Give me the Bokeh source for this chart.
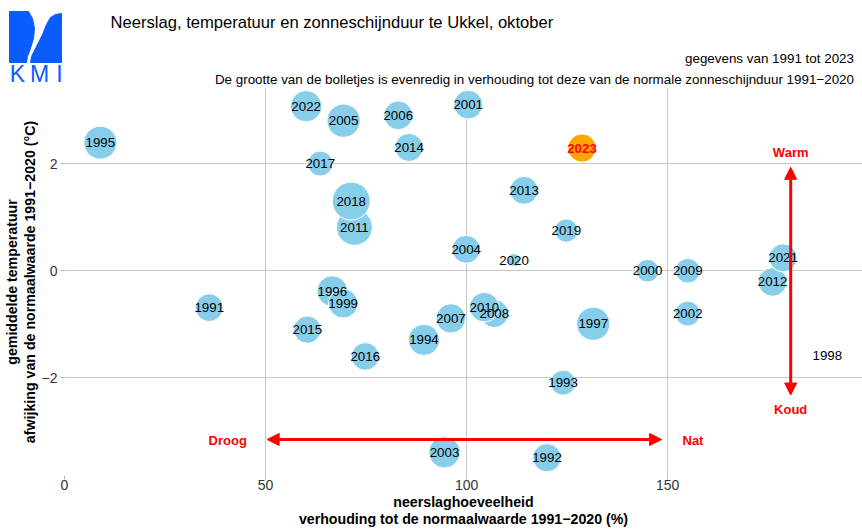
import math
from bokeh.plotting import figure
from bokeh.layouts import column, row
from bokeh.models import (Range1d, FixedTicker, Label, Arrow, NormalHead,
                          ColumnDataSource)
from bokeh.core.properties import value
from bokeh.embed import file_html
from bokeh.resources import INLINE

# ---------------- data ----------------
years = [1991, 1992, 1993, 1994, 1995, 1996, 1997, 1998, 1999, 2000,
         2001, 2002, 2003, 2004, 2005, 2006, 2007, 2008, 2009, 2010,
         2011, 2012, 2013, 2014, 2015, 2016, 2017, 2018, 2019, 2020,
         2021, 2022, 2023]
# precipitation, % of normal 1991-2020
precip = [36.0, 120.0, 124.0, 89.4, 8.9, 66.6, 131.5, 189.7, 69.3, 145.0,
          100.4, 155.0, 94.5, 99.9, 69.4, 83.0, 96.1, 106.9, 155.0, 104.4,
          72.1, 176.1, 114.3, 85.7, 60.4, 74.8, 63.6, 71.3, 124.8, 111.8,
          178.7, 60.1, 128.7]
# temperature anomaly vs 1991-2020 (degC)
temp_anom = [-0.69, -3.49, -2.09, -1.29, 2.39, -0.38, -0.99, -1.58, -0.61, 0.00,
             3.10, -0.80, -3.39, 0.40, 2.80, 2.90, -0.89, -0.80, 0.00, -0.68,
             0.81, -0.21, 1.50, 2.30, -1.10, -1.60, 2.00, 1.30, 0.75, 0.20,
             0.24, 3.07, 2.29]
# sunshine duration, % of normal 1991-2020 (None = missing)
sunshine = [98, 102, 80, 125, 139, 120, 141, None, 110, 66,
            105, 80, 125, 100, 141, 105, 110, 100, 78, 112,
            165, 105, 100, 100, 95, 98, 80, 184, 69, 21,
            100, 125, 102]

x_ticks = [0, 50, 100, 150]
y_ticks = [-2, 0, 2]

title = "Neerslag, temperatuur en zonneschijnduur te Ukkel, oktober"
subtitle1 = "gegevens van 1991 tot 2023"
subtitle2 = ("De grootte van de bolletjes is evenredig in verhouding tot deze van de "
             "normale zonneschijnduur 1991\u22122020")
xlab1 = "neerslaghoeveelheid"
xlab2 = "verhouding tot de normaalwaarde 1991\u22122020 (%)"
ylab1 = "gemiddelde temperatuur"
ylab2 = "afwijking van de normaalwaarde 1991\u22122020 (\u00b0C)"

FONT = "Liberation Sans"
W, H = 862, 530
HEAD_H = 88

# ---------------- header (logo + titles), pixel coordinates ----------------
hd = figure(width=W, height=HEAD_H, output_backend="svg", toolbar_location=None,
            x_range=Range1d(0, W), y_range=Range1d(HEAD_H, 0),
            x_axis_location=None, y_axis_location=None,
            min_border=0, min_border_left=0, min_border_right=0,
            min_border_top=0, min_border_bottom=0)
hd.outline_line_color = None
hd.grid.visible = False

BLUE = "#0a5cff"
left_piece = [(9, 11), (28, 11), (32, 18), (34, 28), (33, 38), (30, 48),
              (27, 56), (26, 62), (9, 62)]
right_piece = [(61, 13), (61, 62), (30, 62), (31, 56), (34, 50), (38, 42),
               (42, 34), (46, 24), (50, 17), (55, 14)]
hd.patches(xs=[[a for a, b in left_piece], [a for a, b in right_piece]],
           ys=[[b for a, b in left_piece], [b for a, b in right_piece]],
           fill_color=BLUE, line_color=BLUE)
hd.text(x=[17, 39, 59], y=[73, 73, 73], text=["K", "M", "I"],
        text_align="center", text_baseline="middle", text_color=BLUE,
        text_font=value(FONT), text_font_size="23px")

def hlabel(text, X, Y, **kw):
    opts = dict(text_font=FONT, text_font_size="13.4px", text_color="black",
                text_baseline="middle", text_align="left")
    opts.update(kw)
    hd.add_layout(Label(x=X, y=Y, text=text, **opts))

hlabel(title, 110, 22, text_font_size="16.6px")
hlabel(subtitle1, 853.5, 58, text_align="right")
hlabel(subtitle2, 853.5, 79, text_align="right")

# ---------------- main plot ----------------
p = figure(width=W, height=H - HEAD_H, output_backend="svg", toolbar_location=None,
           x_range=Range1d(0, 198.46), y_range=Range1d(-3.822, 3.401),
           min_border_left=63, min_border_right=0, min_border_top=0,
           min_border_bottom=55)
p.outline_line_color = None
p.background_fill_color = "white"

for ax in (p.xaxis[0], p.yaxis[0]):
    ax.axis_line_color = None
    ax.major_tick_line_color = "#b3b3b3"
    ax.major_tick_out = 4
    ax.major_tick_in = 0
    ax.minor_tick_line_color = None
    ax.major_label_text_font = FONT
    ax.major_label_text_font_size = "14px"
    ax.major_label_text_color = "#333333"
    ax.major_label_standoff = 3
    ax.axis_label_text_font = FONT
    ax.axis_label_text_font_size = "14.2px"
    ax.axis_label_text_font_style = "bold"
    ax.axis_label_text_color = "black"
    ax.axis_label_standoff = 1
    ax.axis_label_text_line_height = 1.1
p.xaxis.major_label_standoff = 0
p.xaxis.ticker = FixedTicker(ticks=x_ticks)
p.yaxis.ticker = FixedTicker(ticks=y_ticks)
p.yaxis.major_label_overrides = {t: ("\u2212" + str(abs(t)) if t < 0 else str(t)) for t in y_ticks}
p.xaxis.axis_label = xlab1 + "\n" + xlab2
p.yaxis.axis_label = ylab1 + "\n" + ylab2

p.xgrid.ticker = FixedTicker(ticks=x_ticks)
p.ygrid.ticker = FixedTicker(ticks=y_ticks)
for g in (p.xgrid[0], p.ygrid[0]):
    g.grid_line_color = "#c8c8c8"
    g.grid_line_width = 1

# bubbles
bx, by, bs, bc = [], [], [], []
for yr, xv, yv, s in zip(years, precip, temp_anom, sunshine):
    if s is None:
        continue
    bx.append(xv); by.append(yv)
    bs.append(28.0 * math.sqrt(s / 100.0))
    bc.append("#FFA500" if yr == 2023 else "#87CEEB")
src = ColumnDataSource(dict(x=bx, y=by, size=bs, color=bc))
p.scatter("x", "y", size="size", fill_color="color", line_color="white",
          line_width=1, source=src)

lx = [xv for yr, xv in zip(years, precip) if yr != 2023]
ly = [yv for yr, yv in zip(years, temp_anom) if yr != 2023]
lt = [str(yr) for yr in years if yr != 2023]
p.text(x=lx, y=ly, text=lt, text_align="center", text_baseline="middle",
       text_font=value(FONT), text_font_size="13.3px", text_color="black")
hx = [xv for yr, xv in zip(years, precip) if yr == 2023]
hy = [yv for yr, yv in zip(years, temp_anom) if yr == 2023]
p.text(x=hx, y=hy, text=["2023"], text_align="center", text_baseline="middle",
       text_font=value(FONT), text_font_size="13.3px", text_color="red",
       text_font_style="bold")

# arrows
def head():
    return NormalHead(size=12, fill_color="red", line_color="red")

p.add_layout(Arrow(start=head(), end=head(), x_start=50.4, y_start=-3.15,
                   x_end=148.5, y_end=-3.15, line_color="red", line_width=3))
p.add_layout(Arrow(start=head(), end=head(), x_start=180.6, y_start=-2.32,
                   x_end=180.6, y_end=1.93, line_color="red", line_width=3))

for txt, xv, yv in [("Droog", 40.6, -3.17), ("Nat", 156.3, -3.16),
                    ("Warm", 180.6, 2.20), ("Koud", 180.6, -2.59)]:
    p.add_layout(Label(x=xv, y=yv, text=txt, text_align="center",
                       text_baseline="middle", text_color="red",
                       text_font=FONT, text_font_size="13px",
                       text_font_style="bold"))

layout = column(row(hd), p, spacing=0)
open("out.html", "w").write(file_html(layout, INLINE))
